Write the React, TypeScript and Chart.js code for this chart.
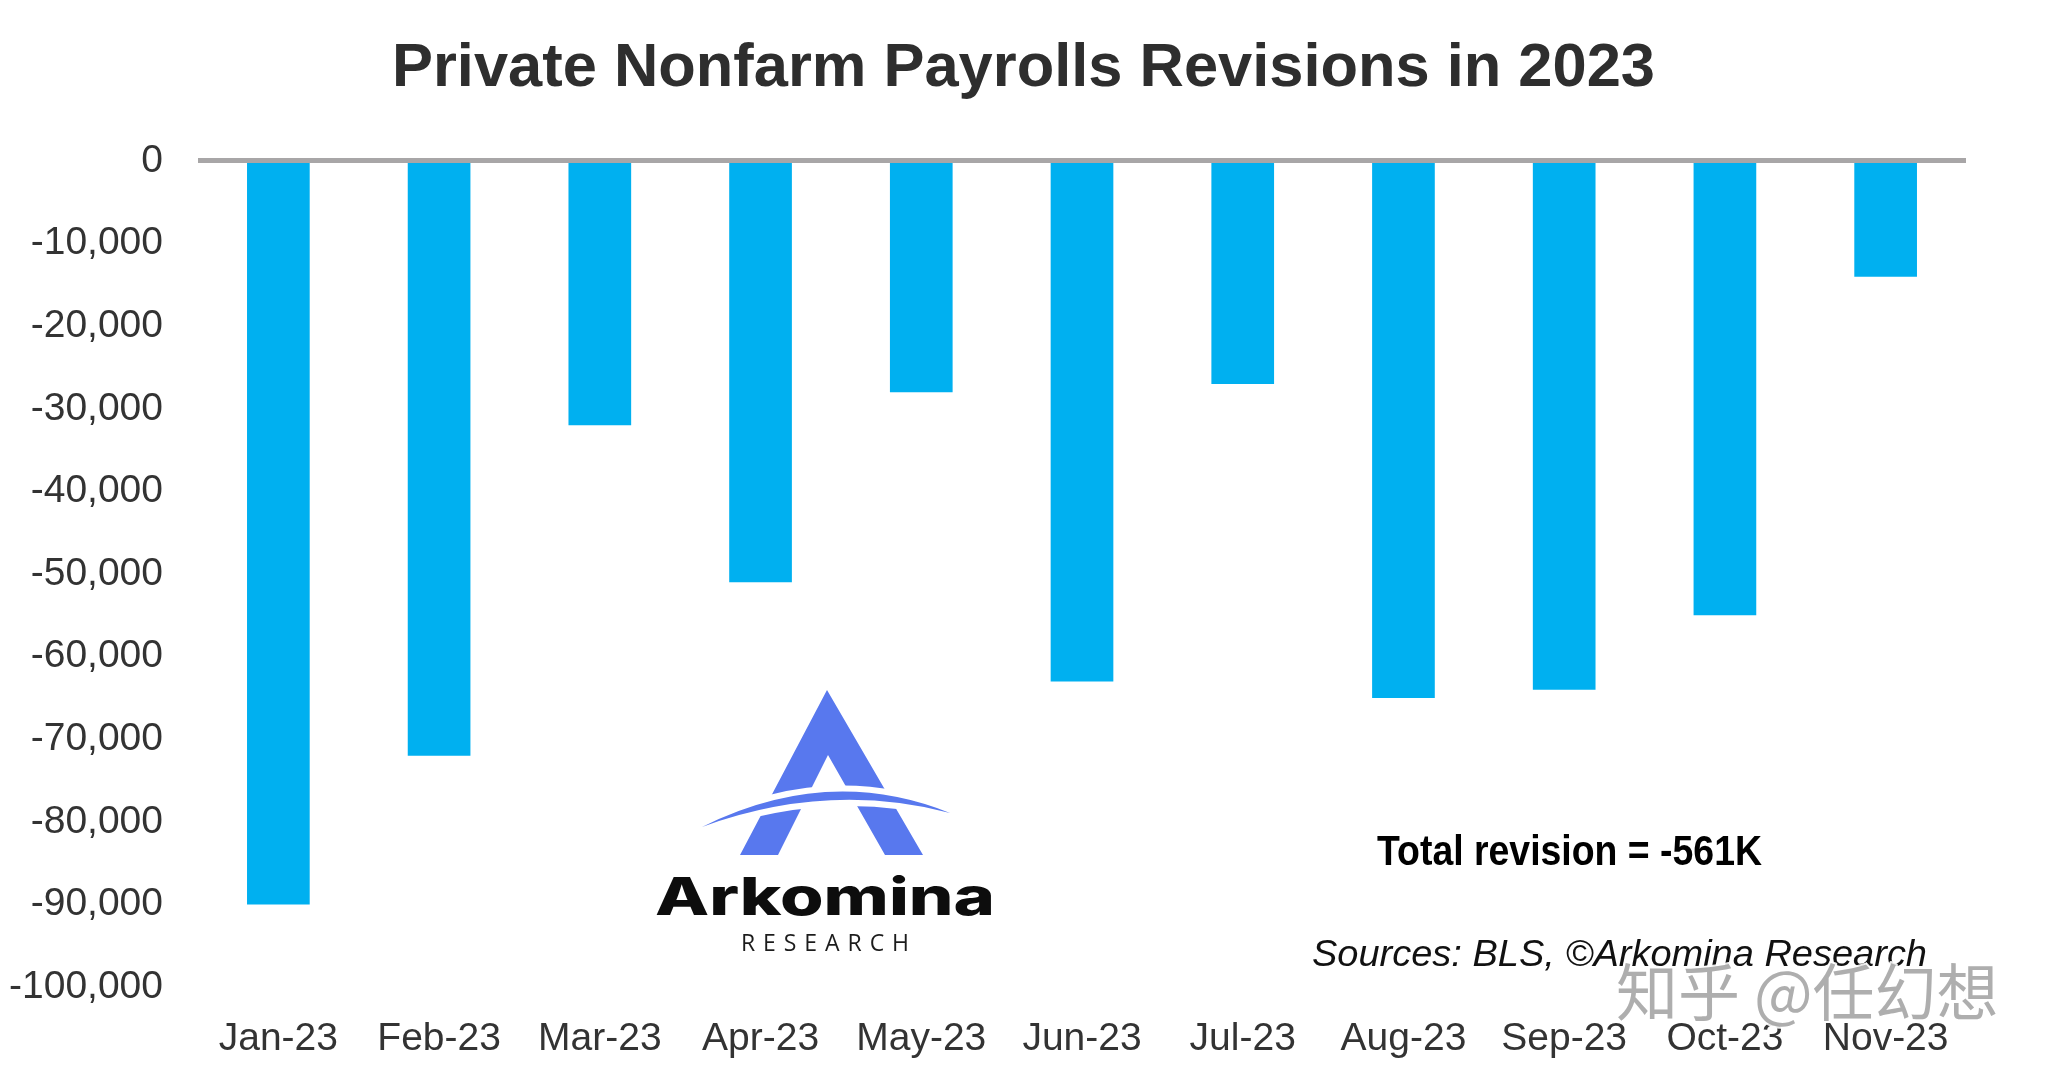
import React, { useEffect, useRef } from "react";
import { Chart, registerables } from "chart.js";

Chart.register(...registerables);

const categories = ["Jan-23", "Feb-23", "Mar-23", "Apr-23", "May-23", "Jun-23", "Jul-23", "Aug-23", "Sep-23", "Oct-23", "Nov-23"];
const revisions = [-90000, -72000, -32000, -51000, -28000, -63000, -27000, -65000, -64000, -55000, -14000];
const yMin = -100000;
const yMax = 0;
const yStep = 10000;
const titleText = "Private Nonfarm Payrolls Revisions in 2023";
const totalNote = "Total revision = -561K";
const sourceNote = "Sources: BLS, \u00A9Arkomina Research";
const logoName = "Arkomina";
const logoSub = "RESEARCH";
const watermark = "知乎 @任幻想";

const FONT = "'Liberation Sans', Arial, Helvetica, sans-serif";

function drawFit(ctx: CanvasRenderingContext2D, text: string, left: number, baseline: number, width: number) {
  const w = ctx.measureText(text).width;
  const sx = width / w;
  ctx.save();
  ctx.translate(left, baseline);
  ctx.scale(sx, 1);
  ctx.textAlign = "left";
  ctx.textBaseline = "alphabetic";
  ctx.fillText(text, 0, 0);
  ctx.restore();
}

function drawSpaced(ctx: CanvasRenderingContext2D, text: string, left: number, baseline: number, width: number) {
  const chars = text.split("");
  const widths = chars.map((c) => ctx.measureText(c).width);
  const sum = widths.reduce((a, b) => a + b, 0);
  const gap = (width - sum) / (chars.length - 1);
  let x = left;
  ctx.textAlign = "left";
  ctx.textBaseline = "alphabetic";
  chars.forEach((c, i) => {
    ctx.fillText(c, x, baseline);
    x += widths[i] + gap;
  });
}

const decorPlugin = {
  id: "decor",
  afterDatasetsDraw(chart: any) {
    const ctx: CanvasRenderingContext2D = chart.ctx;
    const { chartArea, scales } = chart;
    const y0 = scales.y.getPixelForValue(0);
    ctx.save();
    ctx.fillStyle = "#A8A6A7";
    ctx.fillRect(chartArea.left, y0 - 3, chartArea.right - chartArea.left, 5);
    ctx.restore();
  },
  afterDraw(chart: any) {
    const ctx: CanvasRenderingContext2D = chart.ctx;
    ctx.save();
    // Title
    ctx.fillStyle = "#2e2e2e";
    ctx.font = `bold 61px ${FONT}`;
    drawFit(ctx, titleText, 392, 86, 1263);

    // Total revision
    ctx.fillStyle = "#000000";
    ctx.font = `bold 43px ${FONT}`;
    drawFit(ctx, totalNote, 1377, 865, 385);

    // Sources
    ctx.fillStyle = "#111111";
    ctx.font = `italic 36px ${FONT}`;
    drawFit(ctx, sourceNote, 1312, 966, 615);

    // Logo: A
    const blue = "#5878EE";
    ctx.beginPath();
    ctx.moveTo(827, 690);
    ctx.lineTo(923, 855);
    ctx.lineTo(740, 855);
    ctx.closePath();
    ctx.moveTo(828, 755);
    ctx.lineTo(778, 855);
    ctx.lineTo(885, 855);
    ctx.closePath();
    ctx.fillStyle = blue;
    ctx.fill("evenodd");
    const swoosh = () => {
      ctx.beginPath();
      ctx.moveTo(702, 827);
      ctx.quadraticCurveTo(828, 764, 950, 813);
      ctx.quadraticCurveTo(828, 781, 702, 827);
      ctx.closePath();
    };
    swoosh();
    ctx.strokeStyle = "#ffffff";
    ctx.lineWidth = 12;
    ctx.lineJoin = "round";
    ctx.stroke();
    swoosh();
    ctx.fillStyle = blue;
    ctx.fill();

    ctx.fillStyle = "#0d0d0d";
    ctx.font = `800 52px Inter, 'Open Sans', sans-serif`;
    drawFit(ctx, logoName, 655, 915, 340);
    ctx.fillStyle = "#1c1c1c";
    ctx.font = `500 23px 'Open Sans', sans-serif`;
    drawSpaced(ctx, logoSub, 741, 951, 168);

    // Watermark
    ctx.font = `62px 'Noto Sans CJK SC', sans-serif`;
    ctx.textAlign = "left";
    ctx.textBaseline = "alphabetic";
    ctx.lineWidth = 4;
    ctx.strokeStyle = "rgba(255,255,255,0.9)";
    ctx.strokeText(watermark, 1616, 1016);
    ctx.fillStyle = "rgba(160,160,160,0.85)";
    ctx.fillText(watermark, 1616, 1016);
    ctx.restore();
  },
};

export default function App() {
  const ref = useRef<HTMLCanvasElement | null>(null);
  useEffect(() => {
    if (!ref.current) return;
    const chart = new Chart(ref.current, {
      type: "bar",
      data: {
        labels: categories,
        datasets: [
          {
            data: revisions,
            backgroundColor: "#00B0F0",
            borderWidth: 0,
            categoryPercentage: 1,
            barPercentage: 0.39,
          },
        ],
      },
      options: {
        responsive: false,
        animation: false,
        devicePixelRatio: 1,
        layout: { padding: { top: 161, right: 82, left: 0, bottom: 0 } },
        plugins: {
          legend: { display: false },
          tooltip: { enabled: false },
          title: { display: false },
        },
        scales: {
          x: {
            grid: { display: false, drawTicks: false },
            border: { display: false },
            ticks: {
              color: "#333333",
              font: { family: FONT, size: 39 },
              padding: 29,
              maxRotation: 0,
              autoSkip: false,
            },
            afterFit: (s: any) => {
              s.height = 86;
            },
          },
          y: {
            min: yMin,
            max: yMax,
            grid: { display: false, drawTicks: false },
            border: { display: false },
            ticks: {
              stepSize: yStep,
              color: "#333333",
              font: { family: FONT, size: 39 },
              padding: 35,
              callback: (v: any) => Number(v).toLocaleString("en-US"),
            },
            afterFit: (s: any) => {
              s.width = 198;
            },
          },
        },
      },
      plugins: [decorPlugin],
    });
    return () => chart.destroy();
  }, []);
  return (
    <div style={{ position: "fixed", left: 0, top: 0, width: 2048, height: 1073, background: "#ffffff" }}>
      <canvas ref={ref} width={2048} height={1073} style={{ width: 2048, height: 1073, display: "block" }} />
    </div>
  );
}
